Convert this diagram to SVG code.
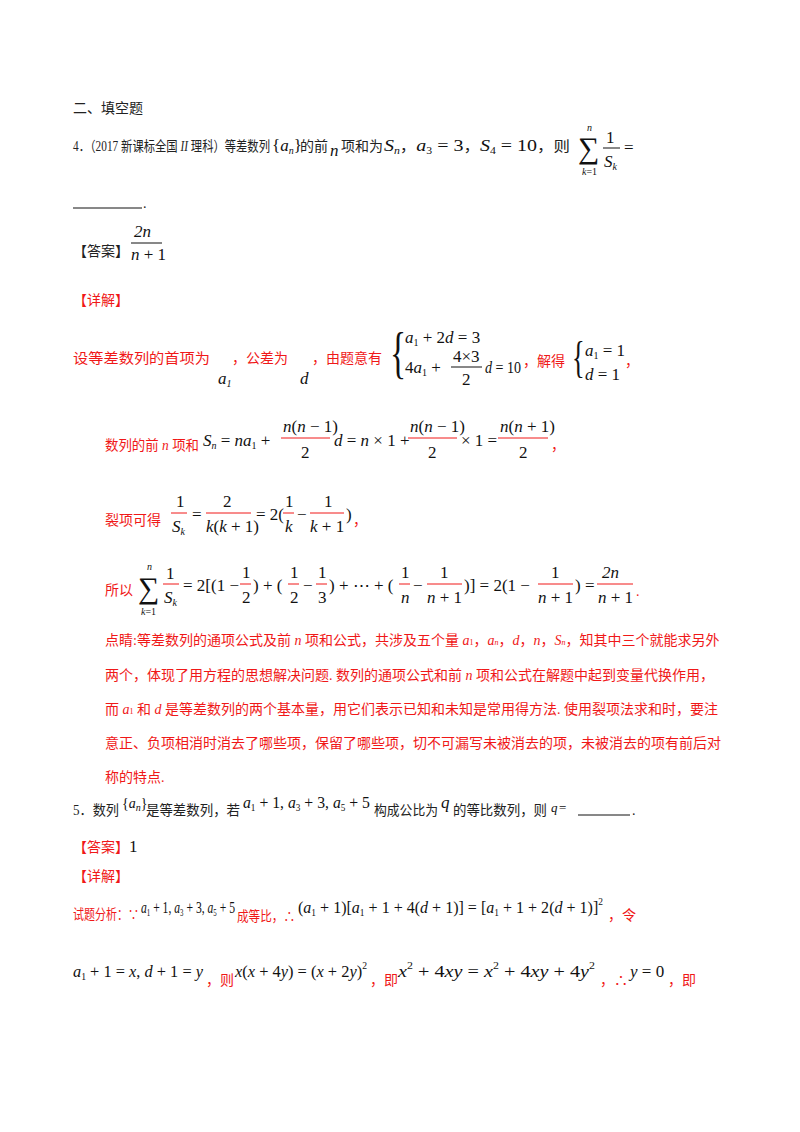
<svg xmlns="http://www.w3.org/2000/svg" width="800" height="1132" viewBox="0 0 800 1132">
<style>
.c{font-family:"Liberation Serif","Noto Sans CJK SC",serif;font-size:14px;fill:#222}
.r{font-family:"Liberation Serif","Noto Sans CJK SC",serif;font-size:14px;fill:#f01818}
.m{font-family:"Liberation Serif",serif;font-size:17px;fill:#111}
.i{font-style:italic}
.s{font-size:10px}
.big{font-size:30px}
.fl{stroke:#111;stroke-width:1}
.rf{stroke:#f01818;stroke-width:1}
</style>
<rect width="800" height="1132" fill="#fff"/>
<text class="c" x="73" y="113">二、填空题</text>
<text class="c" x="73" y="151" textLength="197" lengthAdjust="spacingAndGlyphs">4．（2017 新课标全国 <tspan class="i">II</tspan> 理科）等差数列</text>
<text class="m" x="272" y="151">{<tspan class="i">a</tspan><tspan class="s i" dy="3">n</tspan><tspan dy="-3">}</tspan></text>
<text class="c" x="300" y="151">的前</text>
<text class="m i" x="330" y="156">n</text>
<text class="c" x="341" y="151">项和为</text>
<text class="m" x="384" y="151" textLength="186" lengthAdjust="spacingAndGlyphs"><tspan class="i">S</tspan><tspan class="s i" dy="3">n</tspan><tspan class="c" dy="-3">，</tspan><tspan class="i">a</tspan><tspan class="s" dy="3">3</tspan><tspan dy="-3"> = 3</tspan><tspan class="c">，</tspan><tspan class="i">S</tspan><tspan class="s" dy="3">4</tspan><tspan dy="-3"> = 10</tspan><tspan class="c">，则</tspan></text>
<text class="m big" x="578" y="158">∑</text>
<text class="m s i" x="587" y="131">n</text>
<text class="m s" x="582" y="175"><tspan class="i">k</tspan>=1</text>
<text class="m" x="606" y="143">1</text>
<line class="fl" x1="603" y1="148" x2="620" y2="148"/>
<text class="m i" x="604" y="167">S<tspan class="s" dy="3">k</tspan></text>
<text class="m" x="624" y="153">=</text>
<line class="fl" x1="73" y1="208" x2="142" y2="208"/>
<text class="c" x="143" y="208">.</text>
<text class="c" x="73" y="256">【答案】</text>
<text class="m i" x="134" y="237">2n</text>
<line class="fl" x1="131" y1="243" x2="162" y2="243"/>
<text class="m" x="131" y="260"><tspan class="i">n</tspan> + 1</text>
<text class="r" x="73" y="305">【详解】</text>
<text class="r" x="73" y="363" textLength="137" lengthAdjust="spacingAndGlyphs">设等差数列的首项为</text>
<text class="m i" x="218" y="384">a<tspan class="s" dy="3">1</tspan></text>
<text class="r" x="232" y="363">，公差为</text>
<text class="m i" x="300" y="384">d</text>
<text class="r" x="312" y="363">，由题意有</text>
<text class="m" x="390" y="372" style="font-size:56px" transform="translate(390 372) scale(0.6 1) translate(-390 -372)">{</text>
<text class="m" x="405" y="343"><tspan class="i">a</tspan><tspan class="s" dy="3">1</tspan><tspan dy="-3"> + 2</tspan><tspan class="i">d</tspan> = 3</text>
<text class="m" x="405" y="373">4<tspan class="i">a</tspan><tspan class="s" dy="3">1</tspan><tspan dy="-3"> +</tspan></text>
<text class="m" x="453" y="362">4×3</text>
<line class="fl" x1="451" y1="367" x2="482" y2="367"/>
<text class="m" x="462" y="385">2</text>
<text class="m" x="485" y="373" textLength="36" lengthAdjust="spacingAndGlyphs"><tspan class="i">d</tspan> = 10</text>
<text class="r" x="523" y="366">，解得</text>
<text class="m" x="572" y="372" style="font-size:44px" transform="translate(572 372) scale(0.6 1) translate(-572 -372)">{</text>
<text class="m" x="585" y="356"><tspan class="i">a</tspan><tspan class="s" dy="3">1</tspan><tspan dy="-3"> = 1</tspan></text>
<text class="m" x="585" y="380"><tspan class="i">d</tspan> = 1</text>
<text class="r" x="625" y="366">，</text>
<text class="r" x="105" y="450" textLength="94" lengthAdjust="spacingAndGlyphs">数列的前 <tspan class="i">n</tspan> 项和</text>
<text class="m" x="203" y="446" fill="#f01818"><tspan class="i">S</tspan><tspan class="s i" dy="3">n</tspan><tspan dy="-3"> = </tspan><tspan class="i">na</tspan><tspan class="s" dy="3">1</tspan><tspan dy="-3"> +</tspan></text>
<text class="m" x="283" y="432" fill="#f01818"><tspan class="i">n</tspan>(<tspan class="i">n</tspan> − 1)</text>
<line class="rf" x1="281" y1="438" x2="330" y2="438"/>
<text class="m" x="301" y="458" fill="#f01818">2</text>
<text class="m" x="334" y="446" fill="#f01818"><tspan class="i">d</tspan> = <tspan class="i">n</tspan> × 1 +</text>
<text class="m" x="410" y="432" fill="#f01818"><tspan class="i">n</tspan>(<tspan class="i">n</tspan> − 1)</text>
<line class="rf" x1="408" y1="438" x2="457" y2="438"/>
<text class="m" x="428" y="458" fill="#f01818">2</text>
<text class="m" x="461" y="446" fill="#f01818">× 1 =</text>
<text class="m" x="500" y="432" fill="#f01818"><tspan class="i">n</tspan>(<tspan class="i">n</tspan> + 1)</text>
<line class="rf" x1="498" y1="438" x2="548" y2="438"/>
<text class="m" x="519" y="458" fill="#f01818">2</text>
<text class="r" x="551" y="450">，</text>
<text class="r" x="105" y="525">裂项可得</text>
<text class="m" x="176" y="507" fill="#f01818">1</text>
<line class="rf" x1="171" y1="513" x2="187" y2="513"/>
<text class="m i" x="172" y="532" fill="#f01818">S<tspan class="s" dy="3">k</tspan></text>
<text class="m" x="192" y="520" fill="#f01818">=</text>
<text class="m" x="223" y="507" fill="#f01818">2</text>
<line class="rf" x1="206" y1="513" x2="251" y2="513"/>
<text class="m" x="206" y="532" fill="#f01818"><tspan class="i">k</tspan>(<tspan class="i">k</tspan> + 1)</text>
<text class="m" x="256" y="520" fill="#f01818">= 2(</text>
<text class="m" x="285" y="507" fill="#f01818">1</text>
<line class="rf" x1="283" y1="513" x2="294" y2="513"/>
<text class="m i" x="285" y="532" fill="#f01818">k</text>
<text class="m" x="297" y="520" fill="#f01818">−</text>
<text class="m" x="324" y="507" fill="#f01818">1</text>
<line class="rf" x1="310" y1="513" x2="344" y2="513"/>
<text class="m" x="310" y="532" fill="#f01818"><tspan class="i">k</tspan> + 1</text>
<text class="m" x="346" y="520" fill="#f01818">)</text>
<text class="r" x="353" y="525">，</text>
<text class="r" x="105" y="595">所以</text>
<text class="m big" x="138" y="598" fill="#f01818">∑</text>
<text class="m s i" x="147" y="570" fill="#f01818">n</text>
<text class="m s" x="141" y="615" fill="#f01818"><tspan class="i">k</tspan>=1</text>
<text class="m" x="166" y="579" fill="#f01818">1</text>
<line class="rf" x1="163" y1="584" x2="179" y2="584"/>
<text class="m i" x="164" y="603" fill="#f01818">S<tspan class="s" dy="3">k</tspan></text>
<text class="m" x="183" y="591" fill="#f01818">= 2[(1 −</text>
<text class="m" x="242" y="578" fill="#f01818">1</text>
<line class="rf" x1="240" y1="584" x2="251" y2="584"/>
<text class="m" x="242" y="603" fill="#f01818">2</text>
<text class="m" x="253" y="591" fill="#f01818">) + (</text>
<text class="m" x="290" y="578" fill="#f01818">1</text>
<line class="rf" x1="288" y1="584" x2="299" y2="584"/>
<text class="m" x="290" y="603" fill="#f01818">2</text>
<text class="m" x="303" y="591" fill="#f01818">−</text>
<text class="m" x="318" y="578" fill="#f01818">1</text>
<line class="rf" x1="316" y1="584" x2="327" y2="584"/>
<text class="m" x="318" y="603" fill="#f01818">3</text>
<text class="m" x="329" y="591" fill="#f01818">) + ⋯ + (</text>
<text class="m" x="401" y="578" fill="#f01818">1</text>
<line class="rf" x1="399" y1="584" x2="410" y2="584"/>
<text class="m i" x="401" y="603" fill="#f01818">n</text>
<text class="m" x="413" y="591" fill="#f01818">−</text>
<text class="m" x="440" y="578" fill="#f01818">1</text>
<line class="rf" x1="427" y1="584" x2="462" y2="584"/>
<text class="m" x="427" y="603" fill="#f01818"><tspan class="i">n</tspan> + 1</text>
<text class="m" x="464" y="591" fill="#f01818">)] = 2(1 −</text>
<text class="m" x="551" y="578" fill="#f01818">1</text>
<line class="rf" x1="538" y1="584" x2="573" y2="584"/>
<text class="m" x="538" y="603" fill="#f01818"><tspan class="i">n</tspan> + 1</text>
<text class="m" x="575" y="591" fill="#f01818">) =</text>
<text class="m i" x="602" y="578" fill="#f01818">2n</text>
<line class="rf" x1="597" y1="584" x2="633" y2="584"/>
<text class="m" x="598" y="603" fill="#f01818"><tspan class="i">n</tspan> + 1</text>
<text class="r" x="636" y="596">.</text>
<text class="r" x="105" y="645">点睛:等差数列的通项公式及前 <tspan class="i">n</tspan> 项和公式，共涉及五个量 <tspan class="i">a</tspan><tspan style="font-size:8px">1</tspan>，<tspan class="i">a<tspan style="font-size:8px">n</tspan></tspan>，<tspan class="i">d</tspan>，<tspan class="i">n</tspan>，<tspan class="i">S<tspan style="font-size:8px">n</tspan></tspan>，知其中三个就能求另外</text>
<text class="r" x="105" y="680">两个，体现了用方程的思想解决问题. 数列的通项公式和前 <tspan class="i">n</tspan> 项和公式在解题中起到变量代换作用，</text>
<text class="r" x="105" y="714">而 <tspan class="i">a</tspan><tspan style="font-size:8px">1</tspan> 和 <tspan class="i">d</tspan> 是等差数列的两个基本量，用它们表示已知和未知是常用得方法. 使用裂项法求和时，要注</text>
<text class="r" x="105" y="748">意正、负项相消时消去了哪些项，保留了哪些项，切不可漏写未被消去的项，未被消去的项有前后对</text>
<text class="r" x="105" y="782">称的特点.</text>
<text class="c" x="73" y="815" textLength="46" lengthAdjust="spacingAndGlyphs">5．数列</text>
<text class="m" x="122" y="808" style="font-size:14px">{<tspan class="i">a</tspan><tspan class="s i" dy="3">n</tspan><tspan dy="-3">}</tspan></text>
<text class="c" x="146" y="815" textLength="94" lengthAdjust="spacingAndGlyphs">是等差数列，若</text>
<text class="m" x="243" y="808" textLength="127" lengthAdjust="spacingAndGlyphs"><tspan class="i">a</tspan><tspan class="s" dy="3">1</tspan><tspan dy="-3"> + 1, </tspan><tspan class="i">a</tspan><tspan class="s" dy="3">3</tspan><tspan dy="-3"> + 3, </tspan><tspan class="i">a</tspan><tspan class="s" dy="3">5</tspan><tspan dy="-3"> + 5</tspan></text>
<text class="c" x="374" y="815" textLength="64" lengthAdjust="spacingAndGlyphs">构成公比为</text>
<text class="m i" x="441" y="808">q</text>
<text class="c" x="453" y="815" textLength="94" lengthAdjust="spacingAndGlyphs">的等比数列，则</text>
<text class="m i" x="551" y="812" style="font-size:13px">q</text>
<text class="m" x="559" y="812" style="font-size:13px"> =</text>
<line class="fl" x1="578" y1="815" x2="630" y2="815"/>
<text class="c" x="632" y="815">.</text>
<text class="r" x="73" y="852">【答案】<tspan class="m" fill="#111" style="font-size:17px">1</tspan></text>
<text class="r" x="73" y="881">【详解】</text>
<text class="r" x="73" y="919" textLength="66" lengthAdjust="spacingAndGlyphs">试题分析：∵</text>
<text class="m" x="141" y="913" textLength="94" lengthAdjust="spacingAndGlyphs"><tspan class="i">a</tspan><tspan class="s" dy="3">1</tspan><tspan dy="-3"> + 1, </tspan><tspan class="i">a</tspan><tspan class="s" dy="3">3</tspan><tspan dy="-3"> + 3, </tspan><tspan class="i">a</tspan><tspan class="s" dy="3">5</tspan><tspan dy="-3"> + 5</tspan></text>
<text class="r" x="237" y="921" textLength="58" lengthAdjust="spacingAndGlyphs">成等比，∴</text>
<text class="m" x="298" y="913" textLength="305" lengthAdjust="spacingAndGlyphs">(<tspan class="i">a</tspan><tspan class="s" dy="3">1</tspan><tspan dy="-3"> + 1)[</tspan><tspan class="i">a</tspan><tspan class="s" dy="3">1</tspan><tspan dy="-3"> + 1 + 4(</tspan><tspan class="i">d</tspan> + 1)] = [<tspan class="i">a</tspan><tspan class="s" dy="3">1</tspan><tspan dy="-3"> + 1 + 2(</tspan><tspan class="i">d</tspan> + 1)]<tspan class="s" dy="-8">2</tspan></text>
<text class="r" x="608" y="920">，令</text>
<text class="m" x="73" y="977" textLength="130" lengthAdjust="spacingAndGlyphs"><tspan class="i">a</tspan><tspan class="s" dy="3">1</tspan><tspan dy="-3"> + 1 = </tspan><tspan class="i">x</tspan>, <tspan class="i">d</tspan> + 1 = <tspan class="i">y</tspan></text>
<text class="r" x="206" y="985">，则</text>
<text class="m" x="235" y="977" textLength="132" lengthAdjust="spacingAndGlyphs"><tspan class="i">x</tspan>(<tspan class="i">x</tspan> + 4<tspan class="i">y</tspan>) = (<tspan class="i">x</tspan> + 2<tspan class="i">y</tspan>)<tspan class="s" dy="-8">2</tspan></text>
<text class="r" x="370" y="985">，即</text>
<text class="m" x="398" y="977" textLength="197" lengthAdjust="spacingAndGlyphs"><tspan class="i">x</tspan><tspan class="s" dy="-8">2</tspan><tspan dy="8"> + 4</tspan><tspan class="i">xy</tspan> = <tspan class="i">x</tspan><tspan class="s" dy="-8">2</tspan><tspan dy="8"> + 4</tspan><tspan class="i">xy</tspan> + 4<tspan class="i">y</tspan><tspan class="s" dy="-8">2</tspan></text>
<text class="r" x="600" y="985">，∴</text>
<text class="m" x="630" y="977"><tspan class="i">y</tspan> = 0</text>
<text class="r" x="668" y="985">，即</text>
</svg>
